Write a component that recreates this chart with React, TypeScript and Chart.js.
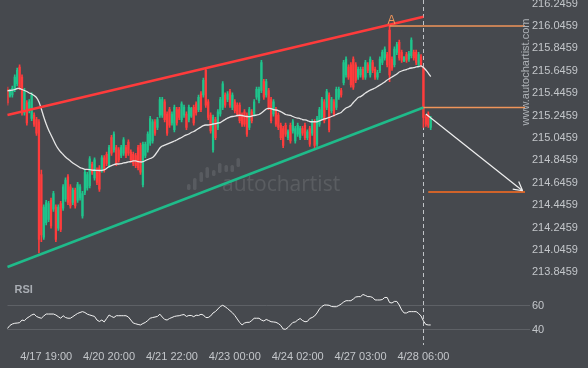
import React, { useEffect, useRef } from "react";
import { Chart, registerables } from "chart.js";

Chart.register(...registerables);

const FONT = '"Liberation Sans", Arial, sans-serif';

// category slots (hourly candles + projection space)
const slotLabels: number[] = Array.from({ length: 215 }, (_, i) => i);
const dateTickSlots = [16, 42, 68, 94, 120, 146, 172];
const dateTickTexts = ["4/17 19:00", "4/20 20:00", "4/21 22:00", "4/23 00:00", "4/24 02:00", "4/27 03:00", "4/28 06:00"];
const priceTicks = [216.2459, 216.0459, 215.8459, 215.6459, 215.4459, 215.2459, 215.0459, 214.8459, 214.6459, 214.4459, 214.2459, 214.0459, 213.8459];
const rsiTicks = [40, 60];

const opens = [
  215.48, 215.42, 215.43, 215.48, 215.53, 215.68, 215.59, 215.27, 215.36, 215.29,
  215.22, 215.25, 215.21, 215.19, 214.72, 214.16, 214.29, 214.32, 214.49, 214.41,
  214.43, 214.24, 214.46, 214.42, 214.50, 214.70, 214.61, 214.47, 214.58, 214.49,
  214.51, 214.35, 214.56, 214.60, 214.62, 214.81, 214.69, 214.76, 214.78, 214.76,
  214.87, 214.90, 214.80, 215.05, 214.94, 214.96, 214.94, 214.89, 214.91, 214.96,
  215.01, 214.92, 214.90, 214.89, 214.96, 214.98, 214.63, 214.89, 214.94, 215.00,
  215.02, 215.19, 215.14, 215.25, 215.25, 215.37, 215.26, 215.30, 215.18, 215.12,
  215.30, 215.30, 215.21, 215.25, 215.26, 215.21, 215.24, 215.32, 215.35, 215.30,
  215.44, 215.43, 215.65, 215.37, 215.25, 214.94, 215.21, 215.14, 215.26, 215.32,
  215.43, 215.39, 215.46, 215.32, 215.37, 215.34, 215.34, 215.25, 215.28, 215.25,
  215.14, 215.28, 215.26, 215.41, 215.38, 215.47, 215.55, 215.43, 215.47, 215.39,
  215.26, 215.30, 215.25, 215.16, 215.13, 215.16, 215.05, 215.16, 215.11, 215.02,
  215.08, 215.05, 215.13, 215.16, 215.05, 215.13, 215.09, 215.19, 214.99, 215.17,
  215.23, 215.37, 215.32, 215.43, 215.29, 215.37, 215.32, 215.41, 215.47, 215.54,
  215.61, 215.68, 215.70, 215.75, 215.70, 215.59, 215.61, 215.66, 215.59, 215.70,
  215.61, 215.72, 215.66, 215.59, 215.65, 215.72, 215.76, 215.79, 216.01, 215.75,
  215.70, 215.81, 215.90, 215.81, 215.73, 215.79, 215.75, 215.78, 215.81, 215.81,
  215.70, 215.77, 215.67, 215.23, 215.26, 215.14,
];
const highs = [
  215.50, 215.48, 215.51, 215.61, 215.67, 215.70, 215.61, 215.49, 215.38, 215.39,
  215.45, 215.27, 215.23, 215.21, 214.76, 214.45, 214.49, 214.48, 214.51, 214.57,
  214.45, 214.45, 214.48, 214.63, 214.69, 214.72, 214.63, 214.60, 214.60, 214.65,
  214.63, 214.57, 214.76, 214.74, 214.88, 214.83, 214.87, 214.78, 214.80, 214.89,
  214.89, 214.92, 214.98, 215.07, 215.10, 214.98, 214.96, 214.98, 215.05, 214.98,
  215.03, 214.94, 214.92, 214.91, 214.98, 215.00, 215.01, 215.01, 215.10, 215.24,
  215.21, 215.21, 215.23, 215.41, 215.41, 215.39, 215.28, 215.32, 215.28, 215.34,
  215.32, 215.32, 215.37, 215.34, 215.28, 215.34, 215.32, 215.34, 215.37, 215.43,
  215.46, 215.58, 215.67, 215.39, 215.27, 215.25, 215.23, 215.30, 215.41, 215.55,
  215.45, 215.46, 215.48, 215.45, 215.39, 215.36, 215.36, 215.27, 215.30, 215.27,
  215.32, 215.30, 215.39, 215.50, 215.50, 215.74, 215.57, 215.57, 215.49, 215.41,
  215.39, 215.32, 215.27, 215.18, 215.15, 215.18, 215.12, 215.18, 215.21, 215.15,
  215.18, 215.15, 215.15, 215.18, 215.12, 215.15, 215.21, 215.21, 215.24, 215.32,
  215.41, 215.39, 215.48, 215.45, 215.41, 215.39, 215.50, 215.50, 215.49, 215.74,
  215.77, 215.70, 215.72, 215.77, 215.72, 215.68, 215.68, 215.68, 215.74, 215.72,
  215.77, 215.74, 215.68, 215.65, 215.77, 215.83, 215.86, 215.81, 216.05, 215.77,
  215.86, 215.90, 215.92, 215.83, 215.77, 215.81, 215.82, 215.94, 215.83, 215.83,
  215.81, 215.79, 215.68, 215.25, 215.28, 215.24,
];
const lows = [
  215.34, 215.41, 215.41, 215.46, 215.51, 215.48, 215.25, 215.25, 215.16, 215.27,
  215.20, 215.15, 215.07, 214.02, 214.12, 214.14, 214.27, 214.30, 214.24, 214.39,
  214.12, 214.22, 214.21, 214.40, 214.48, 214.45, 214.42, 214.45, 214.42, 214.47,
  214.49, 214.33, 214.54, 214.58, 214.60, 214.72, 214.67, 214.63, 214.57, 214.74,
  214.74, 214.80, 214.78, 214.89, 214.92, 214.80, 214.83, 214.87, 214.89, 214.87,
  214.89, 214.83, 214.80, 214.78, 214.76, 214.72, 214.61, 214.87, 214.92, 214.98,
  215.00, 215.07, 215.12, 215.23, 215.23, 215.19, 215.07, 215.14, 215.16, 215.10,
  215.16, 215.21, 215.19, 215.23, 215.12, 215.19, 215.23, 215.16, 215.25, 215.28,
  215.28, 215.41, 215.32, 215.21, 215.09, 214.92, 215.03, 215.12, 215.24, 215.30,
  215.32, 215.37, 215.32, 215.30, 215.27, 215.24, 215.18, 215.15, 215.15, 215.06,
  215.12, 215.18, 215.24, 215.39, 215.36, 215.45, 215.39, 215.41, 215.30, 215.18,
  215.24, 215.15, 215.12, 215.03, 214.96, 215.06, 215.03, 215.00, 215.09, 215.00,
  215.06, 215.03, 215.07, 215.03, 215.03, 214.97, 215.07, 214.96, 214.97, 215.15,
  215.21, 215.18, 215.30, 215.10, 215.27, 215.24, 215.30, 215.39, 215.41, 215.52,
  215.59, 215.57, 215.50, 215.48, 215.54, 215.57, 215.59, 215.57, 215.57, 215.63,
  215.59, 215.63, 215.57, 215.57, 215.63, 215.70, 215.74, 215.68, 215.55, 215.65,
  215.68, 215.79, 215.74, 215.72, 215.73, 215.72, 215.73, 215.76, 215.74, 215.70,
  215.68, 215.68, 215.14, 215.15, 215.14, 215.12,
];
const closes = [
  215.36, 215.47, 215.49, 215.59, 215.65, 215.50, 215.27, 215.47, 215.18, 215.37,
  215.43, 215.17, 215.09, 214.14, 214.18, 214.43, 214.47, 214.46, 214.26, 214.55,
  214.14, 214.43, 214.23, 214.61, 214.67, 214.47, 214.44, 214.58, 214.44, 214.63,
  214.61, 214.55, 214.74, 214.72, 214.86, 214.74, 214.85, 214.65, 214.59, 214.87,
  214.76, 214.82, 214.96, 214.91, 215.08, 214.82, 214.85, 214.96, 215.03, 214.89,
  214.91, 214.85, 214.82, 214.80, 214.78, 214.74, 214.99, 214.99, 215.08, 215.22,
  215.19, 215.09, 215.21, 215.39, 215.39, 215.21, 215.09, 215.16, 215.26, 215.32,
  215.18, 215.23, 215.35, 215.32, 215.14, 215.32, 215.31, 215.18, 215.27, 215.41,
  215.30, 215.56, 215.34, 215.23, 215.11, 215.23, 215.05, 215.28, 215.39, 215.53,
  215.34, 215.44, 215.34, 215.43, 215.29, 215.26, 215.20, 215.17, 215.17, 215.08,
  215.30, 215.20, 215.37, 215.48, 215.48, 215.72, 215.41, 215.55, 215.32, 215.20,
  215.37, 215.17, 215.14, 215.05, 214.98, 215.08, 215.10, 215.02, 215.19, 215.13,
  215.16, 215.13, 215.09, 215.05, 215.10, 214.99, 215.19, 214.98, 215.22, 215.30,
  215.39, 215.20, 215.46, 215.12, 215.39, 215.26, 215.48, 215.48, 215.43, 215.72,
  215.75, 215.59, 215.52, 215.50, 215.56, 215.66, 215.66, 215.59, 215.72, 215.65,
  215.75, 215.65, 215.59, 215.63, 215.75, 215.81, 215.84, 215.70, 215.61, 215.67,
  215.84, 215.88, 215.76, 215.74, 215.77, 215.74, 215.80, 215.92, 215.76, 215.72,
  215.79, 215.70, 215.23, 215.17, 215.16, 215.22,
];
const movingAverage = [
  215.466, 215.470, 215.474, 215.479, 215.488, 215.488, 215.479, 215.470, 215.461, 215.448,
  215.439, 215.425, 215.407, 215.367, 215.305, 215.233, 215.171, 215.117, 215.073, 215.028,
  214.983, 214.948, 214.921, 214.899, 214.876, 214.858, 214.841, 214.823, 214.809, 214.796,
  214.782, 214.774, 214.766, 214.765, 214.763, 214.760, 214.758, 214.757, 214.756, 214.757,
  214.762, 214.774, 214.791, 214.800, 214.809, 214.814, 214.814, 214.818, 214.823, 214.827,
  214.832, 214.836, 214.841, 214.841, 214.836, 214.832, 214.834, 214.845, 214.854, 214.863,
  214.872, 214.894, 214.925, 214.957, 214.974, 214.983, 214.992, 215.001, 215.010, 215.019,
  215.028, 215.041, 215.050, 215.064, 215.073, 215.082, 215.095, 215.104, 215.117, 215.131,
  215.144, 215.157, 215.162, 215.162, 215.166, 215.171, 215.175, 215.180, 215.184, 215.198,
  215.211, 215.224, 215.233, 215.238, 215.242, 215.247, 215.249, 215.247, 215.242, 215.238,
  215.236, 215.242, 215.247, 215.251, 215.256, 215.269, 215.287, 215.305, 215.311, 215.309,
  215.300, 215.296, 215.291, 215.282, 215.269, 215.256, 215.251, 215.247, 215.238, 215.229,
  215.224, 215.220, 215.211, 215.207, 215.202, 215.193, 215.191, 215.191, 215.191, 215.198,
  215.207, 215.216, 215.222, 215.229, 215.238, 215.247, 215.256, 215.265, 215.274, 215.296,
  215.314, 215.323, 215.336, 215.363, 215.385, 215.407, 215.416, 215.430, 215.448, 215.461,
  215.474, 215.483, 215.492, 215.506, 215.519, 215.532, 215.546, 215.564, 215.577, 215.591,
  215.604, 215.617, 215.635, 215.644, 215.653, 215.657, 215.666, 215.671, 215.675, 215.680,
  215.684, 215.689, 215.675, 215.653, 215.626, 215.595,
];
const rsiValues = [
  41.3, 43.8, 45.0, 45.6, 45.8, 46.1, 48.3, 47.8, 49.8, 51.1,
  52.5, 53.3, 51.3, 50.4, 49.8, 51.7, 53.3, 53.3, 53.3, 53.3,
  52.5, 51.1, 49.8, 51.9, 50.4, 49.8, 49.8, 51.1, 52.5, 53.8,
  54.6, 55.3, 54.6, 53.2, 52.5, 51.9, 51.3, 48.3, 47.1, 48.3,
  46.7, 49.6, 52.5, 51.3, 50.4, 51.9, 51.9, 51.9, 51.9, 51.9,
  50.8, 48.3, 45.8, 45.2, 44.6, 44.2, 45.4, 46.3, 47.9, 49.8,
  50.4, 50.8, 51.3, 53.2, 50.8, 48.8, 48.3, 49.6, 50.4, 51.3,
  51.7, 51.9, 52.5, 52.9, 51.3, 52.1, 52.1, 51.1, 52.3, 52.1,
  53.1, 52.5, 50.4, 50.4, 51.7, 54.2, 55.4, 57.5, 59.6, 60.6,
  59.4, 57.9, 56.1, 54.4, 52.1, 49.2, 46.3, 44.2, 45.8, 46.4,
  46.4, 47.9, 49.8, 49.8, 49.8, 48.3, 47.5, 48.8, 47.9, 46.9,
  46.7, 46.4, 45.4, 43.8, 40.8, 40.6, 42.1, 44.2, 46.3, 46.7,
  48.3, 49.6, 47.9, 46.9, 47.1, 49.6, 50.4, 51.7, 54.2, 57.5,
  59.6, 60.8, 60.8, 60.6, 59.6, 59.4, 59.4, 60.4, 61.7, 63.3,
  64.4, 64.4, 64.4, 65.8, 67.5, 67.8, 67.8, 69.6, 68.8, 67.8,
  67.8, 67.1, 65.0, 65.0, 65.0, 65.4, 67.1, 67.1, 62.9, 62.5,
  63.8, 63.8, 60.8, 56.7, 54.2, 54.2, 55.3, 55.3, 55.3, 55.3,
  53.8, 51.7, 47.5, 44.6, 44.2, 44.2,
];

const resistanceLine = [{ x: 0, y: 215.251 }, { x: 172, y: 216.128 }];
const supportLine = [{ x: 0, y: 213.894 }, { x: 172, y: 215.318 }];
const pointALevel = [{ x: 158, y: 216.0459 }, { x: 214, y: 216.0459 }];
const breakoutLevel = [{ x: 172, y: 215.318 }, { x: 214, y: 215.318 }];
const targetLevel = [{ x: 174, y: 214.564 }, { x: 214, y: 214.564 }];
const forecastArrow = [{ x: 173, y: 215.26 }, { x: 213, y: 214.575 }];
const breakoutSlot = 172;
const pointASlot = 158;

const BG = "#46494e";
const UP = "#1fc48c";
const DOWN = "#ff3c3c";

const overlayPlugin = {
  id: "overlay",
  beforeDraw(chart: any) {
    const { ctx, width, height } = chart;
    ctx.save();
    ctx.fillStyle = BG;
    ctx.fillRect(0, 0, width, height);
    ctx.restore();
  },
  beforeDatasetsDraw(chart: any) {
    const { ctx, chartArea: ca, scales } = chart;
    ctx.save();
    // watermark
    ctx.fillStyle = "rgba(255,255,255,0.10)";
    const bars = [
      [187, 184, 6], [193, 178, 12], [199.5, 172, 10], [205.5, 167, 11],
      [212, 170, 6], [218, 163, 10], [224.5, 165, 7], [230.5, 165, 7], [236.5, 158, 9],
    ];
    for (const [bx, by, bh] of bars) {
      ctx.beginPath();
      (ctx as any).roundRect(bx, by, 3.5, bh, 1.5);
      ctx.fill();
    }
    ctx.fillStyle = "rgba(255,255,255,0.11)";
    ctx.font = '21px "Open Sans", sans-serif';
    ctx.textAlign = "left";
    ctx.textBaseline = "alphabetic";
    ctx.fillText("autochartist", 222, 191);
    // breakout vertical dashed line
    const xb = Math.round(scales.x.getPixelForValue(breakoutSlot)) + 0.5;
    ctx.setLineDash([4, 3]);
    ctx.strokeStyle = "#c0c3c7";
    ctx.lineWidth = 1;
    ctx.beginPath();
    ctx.moveTo(xb, ca.top);
    ctx.lineTo(xb, ca.bottom);
    ctx.stroke();
    ctx.restore();
  },
  afterDatasetsDraw(chart: any) {
    const { ctx, chartArea: ca, scales } = chart;
    ctx.save();
    // point A label
    ctx.fillStyle = "#f0955a";
    ctx.font = "12px " + FONT;
    ctx.textAlign = "center";
    ctx.textBaseline = "alphabetic";
    ctx.fillText("A", scales.x.getPixelForValue(pointASlot) + 2, scales.y.getPixelForValue(highs[pointASlot]) - 2);
    // arrow head
    const ai = chart.data.datasets.findIndex((d: any) => d.label === "forecast");
    const pts = chart.getDatasetMeta(ai).data;
    if (pts && pts.length > 1) {
      const p0 = pts[0], p1 = pts[1];
      const ang = Math.atan2(p1.y - p0.y, p1.x - p0.x);
      ctx.strokeStyle = "#f0f0f0";
      ctx.lineWidth = 1.2;
      ctx.beginPath();
      for (const s of [-1, 1]) {
        ctx.moveTo(p1.x, p1.y);
        ctx.lineTo(p1.x - 10 * Math.cos(ang + s * 0.5), p1.y - 10 * Math.sin(ang + s * 0.5));
      }
      ctx.stroke();
    }
    // RSI title
    ctx.fillStyle = "#a9adb3";
    ctx.font = "bold 11px " + FONT;
    ctx.textAlign = "left";
    ctx.textBaseline = "middle";
    ctx.fillText("RSI", ca.left + 7, scales.y2.top);
    // vertical site text
    ctx.translate(ca.right + 0.5, ca.top + 72);
    ctx.rotate(-Math.PI / 2);
    ctx.textAlign = "center";
    ctx.fillStyle = "#aeb2b7";
    ctx.font = "11px " + FONT;
    ctx.fillText("www.autochartist.com", 0, 0);
    ctx.restore();
  },
};

const noPad = (s: any) => {
  s.width = 63;
  s.paddingTop = 0;
  s.paddingBottom = 0;
};

export default function App() {
  const ref = useRef<HTMLCanvasElement | null>(null);
  useEffect(() => {
    document.body.style.margin = "0";
    document.body.style.background = BG;
    if (!ref.current) return;
    Chart.defaults.font.family = FONT;
    const candleColors = opens.map((o, i) => (closes[i] >= o ? UP : DOWN));
    const wicks = lows.map((l, i) => [l, highs[i]]);
    const bodies = opens.map((o, i) => [o, closes[i]]);
    const chart = new Chart(ref.current, {
      type: "bar",
      data: {
        labels: slotLabels,
        datasets: [
          { type: "bar", label: "wick", data: wicks as any, backgroundColor: candleColors, barThickness: 1, grouped: false, borderWidth: 0, yAxisID: "y", order: 6 } as any,
          { type: "bar", label: "body", data: bodies as any, backgroundColor: candleColors, barThickness: 1.6, grouped: false, borderWidth: 0, minBarLength: 1, yAxisID: "y", order: 5 } as any,
          { type: "line", label: "ma", data: movingAverage, borderColor: "#e6e6e6", borderWidth: 1.3, pointRadius: 0, tension: 0.2, yAxisID: "y", order: 4 },
          { type: "line", label: "resistance", data: resistanceLine as any, borderColor: "#ff3b3b", borderWidth: 2.5, pointRadius: 0, yAxisID: "y", order: 3 },
          { type: "line", label: "support", data: supportLine as any, borderColor: "#1fbb8a", borderWidth: 2.5, pointRadius: 0, yAxisID: "y", order: 3 },
          { type: "line", label: "levelA", data: pointALevel as any, borderColor: "#f0955a", borderWidth: 1.5, pointRadius: 0, yAxisID: "y", order: 2 },
          { type: "line", label: "breakout", data: breakoutLevel as any, borderColor: "#f0955a", borderWidth: 1.5, pointRadius: 0, yAxisID: "y", order: 2 },
          { type: "line", label: "target", data: targetLevel as any, borderColor: "#ff6d1f", borderWidth: 1.5, pointRadius: 0, yAxisID: "y", order: 2 },
          { type: "line", label: "forecast", data: forecastArrow as any, borderColor: "#f0f0f0", borderWidth: 1.2, pointRadius: 0, yAxisID: "y", order: 1 },
          { type: "line", label: "rsi", data: rsiValues, borderColor: "#f2f2f2", borderWidth: 1, pointRadius: 0, tension: 0, yAxisID: "y2", order: 1 },
        ],
      },
      options: {
        animation: false,
        responsive: false,
        maintainAspectRatio: false,
        events: [],
        layout: { autoPadding: false, padding: { left: 7.5, right: 0, top: 0, bottom: 0 } },
        plugins: { legend: { display: false }, tooltip: { enabled: false } },
        scales: {
          x: {
            type: "category",
            offset: false,
            grid: { display: false, drawTicks: false },
            border: { display: false },
            ticks: {
              autoSkip: false,
              maxRotation: 0,
              padding: 5,
              color: "#c3c6ca",
              font: { size: 11 },
              callback: (v: any) => dateTickTexts[dateTickSlots.indexOf(Number(v))] ?? "",
            },
            afterBuildTicks: (s: any) => { s.ticks = dateTickSlots.map((v) => ({ value: v })); },
            afterFit: (s: any) => { s.height = 23; s.paddingLeft = 0; s.paddingRight = 0; },
          },
          y: {
            type: "linear",
            position: "right",
            stack: "right",
            stackWeight: 290,
            min: 213.689,
            max: 216.278,
            grid: { display: false, drawTicks: false },
            border: { display: false },
            ticks: { autoSkip: false, color: "#c3c6ca", font: { size: 11 }, padding: 7, callback: (v: any) => Number(v).toFixed(4) },
            afterBuildTicks: (s: any) => { s.ticks = priceTicks.map((v) => ({ value: v })); },
            afterFit: noPad,
          },
          y2: {
            type: "linear",
            position: "right",
            stack: "right",
            stackWeight: 55,
            min: 27.5,
            max: 73.33,
            grid: { color: "#5e6166", lineWidth: 1, drawTicks: true, tickLength: 5 },
            border: { display: false },
            ticks: { autoSkip: false, color: "#c3c6ca", font: { size: 11 }, padding: 2, callback: (v: any) => String(v) },
            afterBuildTicks: (s: any) => { s.ticks = rsiTicks.map((v) => ({ value: v })); },
            afterFit: noPad,
          },
        },
      } as any,
      plugins: [overlayPlugin],
    });
    return () => chart.destroy();
  }, []);
  return <canvas ref={ref} width={588} height={368} style={{ display: "block" }} />;
}
